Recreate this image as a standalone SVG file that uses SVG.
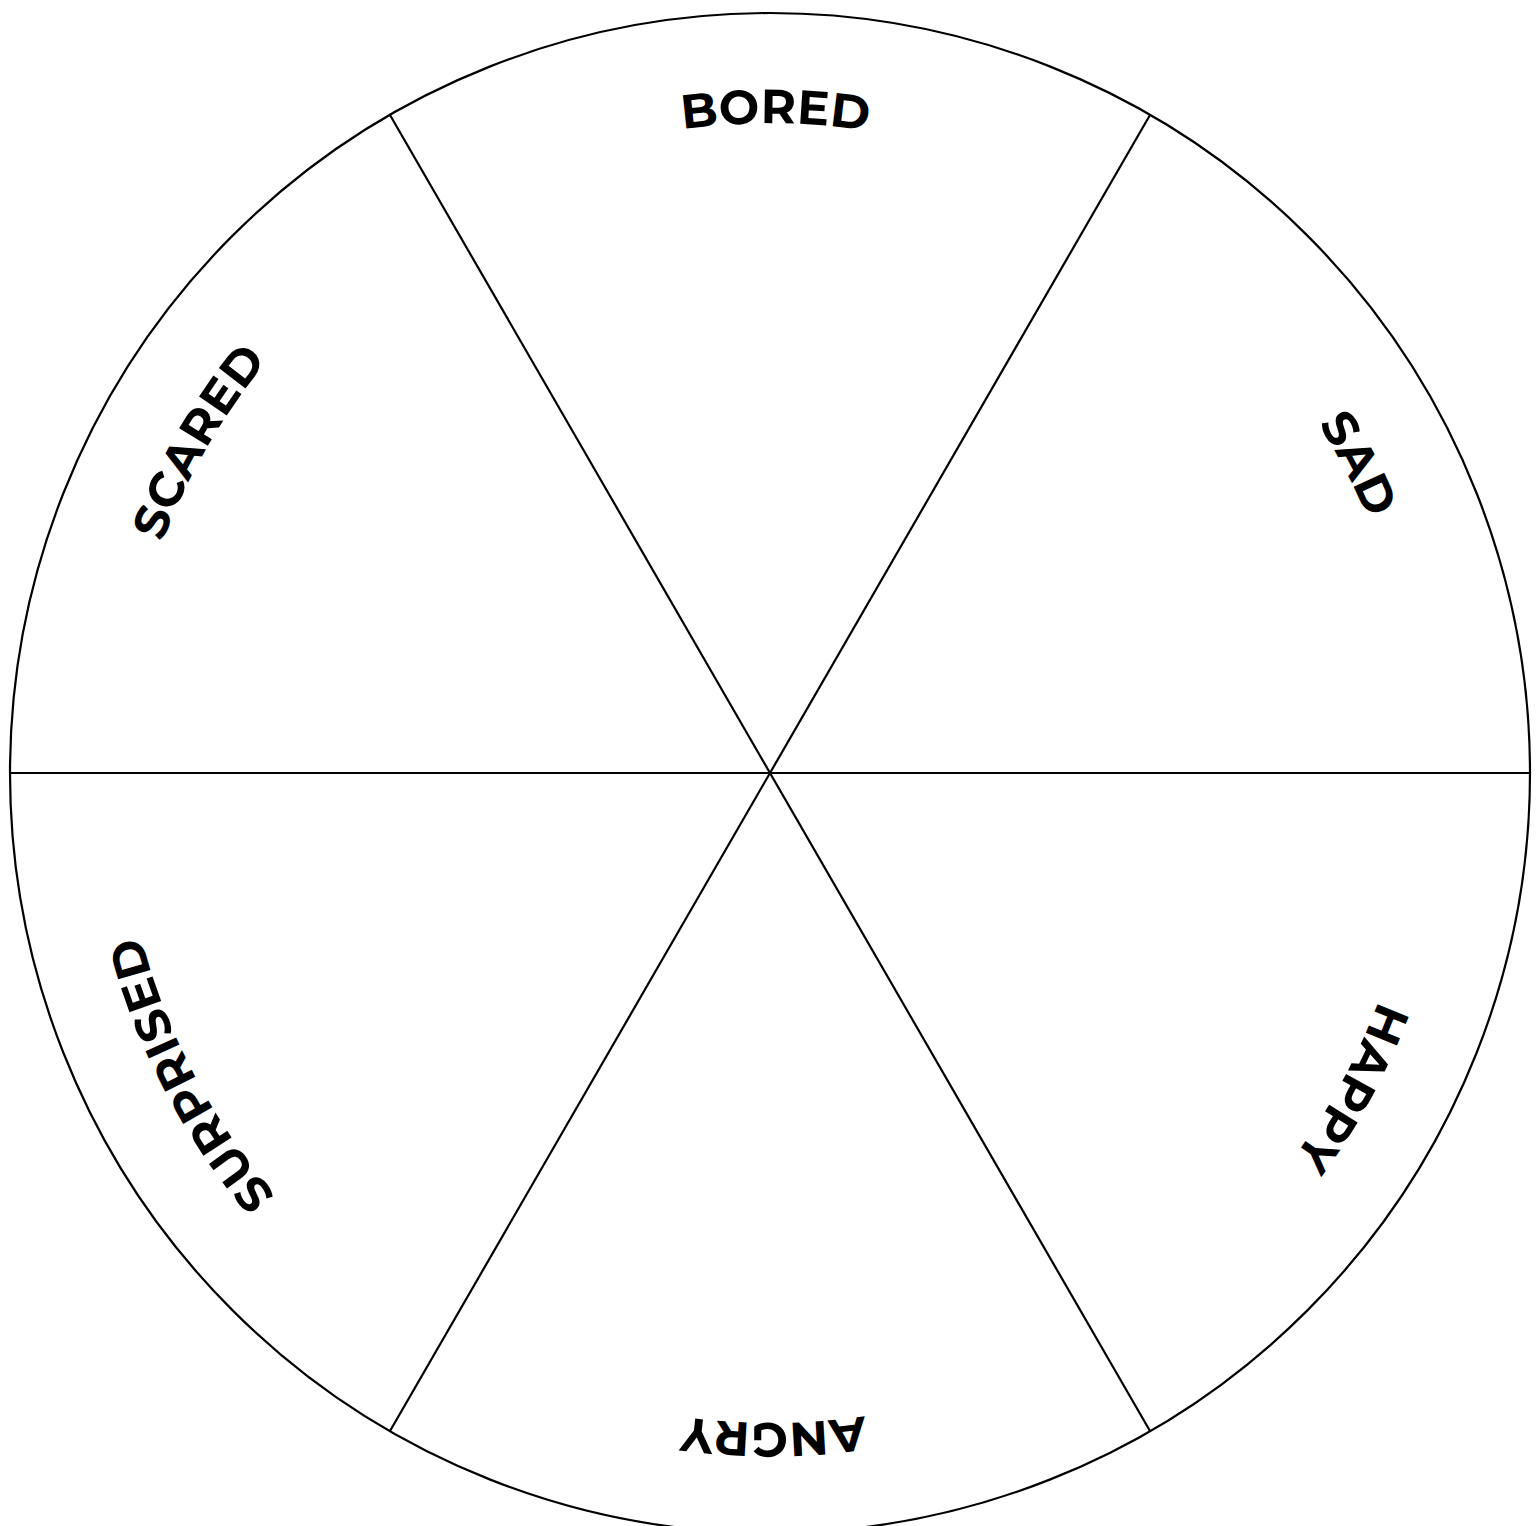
<svg xmlns="http://www.w3.org/2000/svg" width="1536" height="1526" viewBox="0 0 1536 1526">
<style>
.ln{stroke:#000;stroke-width:2.2;fill:none}
.lbl{font-family:"Montserrat","Liberation Sans",Arial,sans-serif;font-weight:bold;font-size:48px;letter-spacing:0.5px;fill:#000}
</style>
<defs>
<path id="pBored" d="M130.9 654.6 A650 650 0 0 1 1411.0 665.7"/>
<path id="pSad" d="M563.7 156.6 A650 650 0 0 1 1174.6 1281.7"/>
<path id="pHappy" d="M1179.0 267.9 A650 650 0 0 1 558.4 1387.6"/>
<path id="pAngry" d="M1410.7 882.5 A650 650 0 0 1 130.5 889.2"/>
<path id="pSurprised" d="M965.5 1392.9 A650 650 0 0 1 374.3 257.3"/>
<path id="pScared" d="M356.6 1274.6 A650 650 0 0 1 986.9 160.2"/>
</defs>
<rect width="1536" height="1526" fill="#fff"/>
<g id="wheel">
<circle class="ln" cx="770" cy="773" r="760"/>
</g>
<g id="connectors">
<line class="ln" x1="10" y1="773" x2="1530" y2="773"/>
<line class="ln" x1="390" y1="115" x2="1150" y2="1431"/>
<line class="ln" x1="1150" y1="115" x2="390" y2="1431"/>
</g>
<g id="bored"><text class="lbl" text-anchor="middle"><textPath href="#pBored" startOffset="50%">BORED</textPath></text></g>
<g id="sad" transform="rotate(0.8 770 773)"><text class="lbl" text-anchor="middle"><textPath href="#pSad" startOffset="50%">SAD</textPath></text></g>
<g id="happy" transform="rotate(-0.6 770 773)"><text class="lbl" text-anchor="middle"><textPath href="#pHappy" startOffset="50%">HAPPY</textPath></text></g>
<g id="angry"><text class="lbl" text-anchor="middle"><textPath href="#pAngry" startOffset="50%">ANGRY</textPath></text></g>
<g id="surprised"><text class="lbl" text-anchor="middle"><textPath href="#pSurprised" startOffset="50%">SURPRISED</textPath></text></g>
<g id="scared" transform="rotate(0.6 770 773)"><text class="lbl" text-anchor="middle"><textPath href="#pScared" startOffset="50%">SCARED</textPath></text></g>
</svg>
